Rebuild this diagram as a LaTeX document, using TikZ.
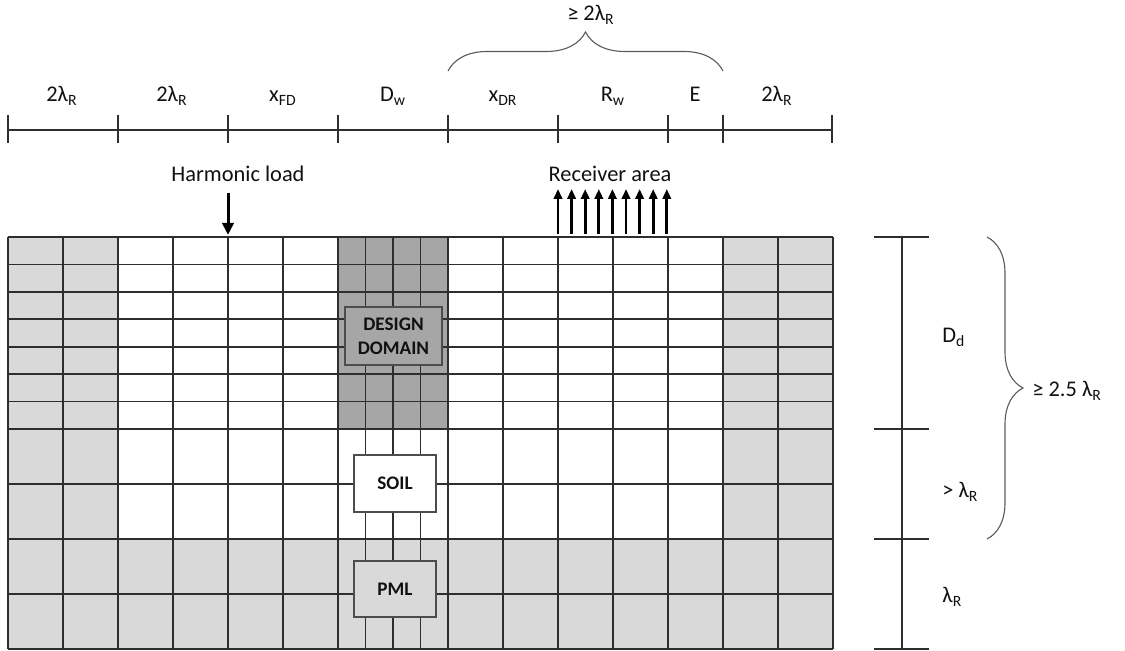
\documentclass[tikz,border=0pt]{standalone}
\usepackage{fontspec}
\setmainfont{Carlito}
\usetikzlibrary{arrows.meta,decorations.pathreplacing}
\definecolor{gridc}{HTML}{2E2E2E}
\definecolor{lightg}{HTML}{D9D9D9}
\definecolor{darkg}{HTML}{A6A6A6}
\definecolor{txt}{HTML}{111111}
\definecolor{bracec}{HTML}{5A5A5A}
\begin{document}
\begin{tikzpicture}[x=0.5pt,y=-0.5pt,
  gridline/.style={draw=gridc,line width=0.8pt},
  dimline/.style={draw=gridc,line width=0.8pt},
  bracel/.style={draw=bracec,line width=0.55pt,decorate},
  lbl/.style={text=txt,font=\fontsize{11.2}{13}\selectfont,inner sep=0pt,anchor=base},
  lblw/.style={lbl,anchor=base west},
  boxlbl/.style={draw=gridc!85,line width=0.6pt,text=txt,font=\fontsize{9.6}{11.8}\selectfont\bfseries,align=center,inner sep=0pt},
  loadarrow/.style={draw=black,line width=1.5pt,-{Triangle[length=6pt,width=5.6pt]}},
  recarrow/.style={draw=black,line width=1.4pt,-{Triangle[length=5pt,width=4.2pt]}}
]
\useasboundingbox (0,0) rectangle (1125,651);
% fills
\fill[lightg] (8,237) rectangle (118,649);
\fill[lightg] (723,237) rectangle (833,649);
\fill[lightg] (8,539) rectangle (833,649);
\fill[darkg] (338,237) rectangle (448,429);
% grid
\foreach \k in {0,...,15} \draw[gridline] ({8+55*\k},237) -- ({8+55*\k},649);
\foreach \xx in {365.5,393,420.5} \draw[gridline] (\xx,237) -- (\xx,649);
\foreach \j in {0,...,7} \draw[gridline] (8,{237+192/7*\j}) -- (833,{237+192/7*\j});
\foreach \yy in {484,539,594,649} \draw[gridline] (8,\yy) -- (833,\yy);
% boxes
\node[boxlbl,fill=darkg,minimum width=48.5pt,minimum height=29pt] (dd) at (393.5,336) {DESIGN\\DOMAIN};
\node[boxlbl,fill=white,minimum width=41pt,minimum height=28.5pt] (soil) at (395,483.5) {SOIL};
\node[boxlbl,fill=lightg,minimum width=41pt,minimum height=28pt] (pml) at (395,589) {PML};
% top dimension line
\foreach \n/\xx in {0/8,1/118,2/228,3/338,4/448,5/558,6/668,7/723,8/832}{
  \coordinate (t\n) at (\xx,130);
  \draw[dimline] (\xx,115) -- (\xx,143);
}
\draw[dimline] (t0) -- (t8);
\node[lbl] (a1) at (62,102) {2λ\textsubscript{R}};
\node[lbl] (a2) at (172,102) {2λ\textsubscript{R}};
\node[lbl] (a3) at (283,102) {x\textsubscript{FD}};
\node[lbl] (a4) at (393,102) {D\textsubscript{w}};
\node[lbl] (a5) at (503,102) {x\textsubscript{DR}};
\node[lbl] (a6) at (613,102) {R\textsubscript{w}};
\node[lbl] (a7) at (695,102) {E};
\node[lbl] (a8) at (777,102) {2λ\textsubscript{R}};
% top brace
\coordinate (bl) at (448,71);
\coordinate (br) at (723,71);
\draw[bracel,decoration={brace,amplitude=19.5pt}] (bl) -- (br);
\node[lbl] (bt) at (591,21) {≥ 2λ\textsubscript{R}};
% loads
\node[lbl] (hl) at (238,182) {Harmonic load};
\coordinate (hs) at (228,193);
\coordinate (he) at (228,235);
\draw[loadarrow] (hs) -- (he);
\node[lbl] (ra) at (610,182) {Receiver area};
\foreach \i in {0,...,8}{
  \coordinate (rs\i) at ({558+13.6*\i},234);
  \coordinate (re\i) at ({558+13.6*\i},189);
  \draw[recarrow] (rs\i) -- (re\i);
}
% right dimension line
\foreach \n/\yy in {0/237,1/429,2/539,3/649}{
  \coordinate (v\n) at (902,\yy);
  \draw[dimline] (874,\yy) -- (929,\yy);
}
\draw[dimline] (v0) -- (v3);
\node[lblw] (dd1) at (942,343) {D\textsubscript{d}};
\node[lblw] (dd2) at (942,498) {> λ\textsubscript{R}};
\node[lblw] (dd3) at (942,603) {λ\textsubscript{R}};
% right brace
\coordinate (rt) at (987,237);
\coordinate (rb) at (987,539);
\draw[bracel,decoration={brace,amplitude=18pt}] (rt) -- (rb);
\node[lblw] (br1) at (1032,397) {≥ 2.5 λ\textsubscript{R}};
\end{tikzpicture}
\end{document}
